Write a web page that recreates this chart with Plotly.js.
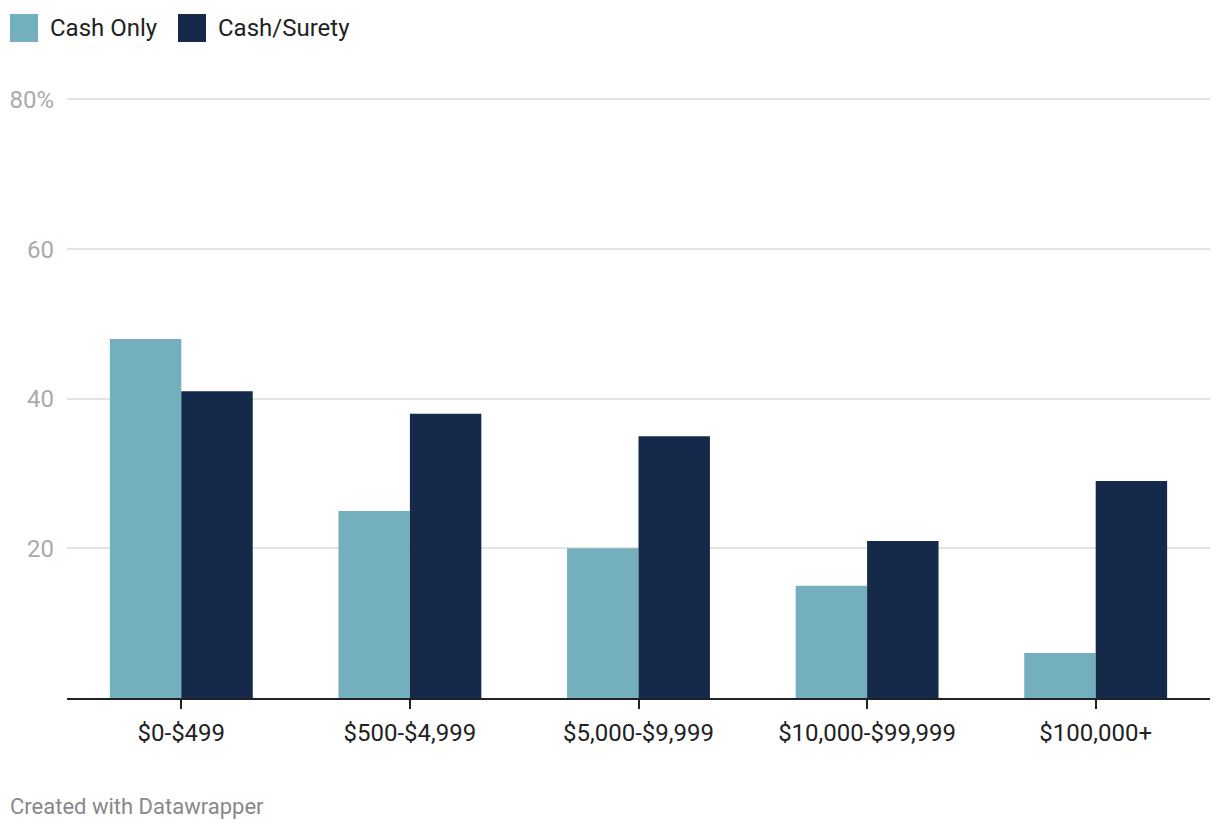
<!DOCTYPE html>
<html>
<head>
<meta charset="utf-8">
<script src="https://cdn.plot.ly/plotly-3.0.1.min.js"></script>
<style>
  html, body { margin: 0; padding: 0; background: #fff; }
  #chart { width: 1220px; height: 830px; }
</style>
</head>
<body>
<div id="chart"></div>
<script>
const categories = ["$0-$499", "$500-$4,999", "$5,000-$9,999", "$10,000-$99,999", "$100,000+"];
const cashOnly = [48, 25, 20, 15, 6];
const cashSurety = [41, 38, 35, 21, 29];
const seriesNames = ["Cash Only", "Cash/Surety"];
const seriesColors = ["#74afbd", "#15294b"];
const yTickVals = [20, 40, 60, 80];
const yTickText = ["20", "40", "60", "80%"];

const W = 1220, H = 830;
const margin = {l: 67, r: 10, t: 92, b: 132};
const pw = W - margin.l - margin.r, ph = H - margin.t - margin.b;
const px = x => (x - margin.l) / pw;
const py = y => (H - margin.b - y) / ph;

const traces = [cashOnly, cashSurety].map((vals, i) => ({
  type: "bar",
  x: categories,
  y: vals,
  name: seriesNames[i],
  marker: {color: seriesColors[i], line: {width: 0}},
  hoverinfo: "x+y+name"
}));

// custom legend (large squares as in reference)
const legendX = [10, 178];
const shapes = [];
const annotations = [];
seriesNames.forEach((n, i) => {
  shapes.push({
    type: "rect", xref: "paper", yref: "paper",
    x0: px(legendX[i]), x1: px(legendX[i] + 28),
    y0: py(42), y1: py(14),
    fillcolor: seriesColors[i], line: {width: 0}
  });
  annotations.push({
    xref: "paper", yref: "paper",
    x: px(legendX[i] + 38), y: py(28),
    xanchor: "left", yanchor: "middle",
    text: n, showarrow: false,
    font: {family: "Roboto", size: 24, color: "#222"}
  });
});
annotations.push({
  xref: "paper", yref: "paper",
  x: px(8), y: py(806),
  xanchor: "left", yanchor: "middle",
  text: "Created with Datawrapper", showarrow: false,
  font: {family: "Roboto", size: 22, color: "#888"}
});

const layout = {
  width: W, height: H,
  margin: margin,
  paper_bgcolor: "#fff",
  plot_bgcolor: "#fff",
  barmode: "group",
  bargap: 0.375,
  bargroupgap: 0,
  showlegend: false,
  font: {family: "Roboto", color: "#222"},
  xaxis: {
    type: "category",
    showgrid: false,
    showline: true,
    linecolor: "#222",
    linewidth: 2,
    ticks: "outside",
    ticklen: 9,
    tickwidth: 2,
    tickcolor: "#222",
    ticklabelstandoff: 3,
    tickfont: {family: "Roboto", size: 24, color: "#222"},
    fixedrange: true
  },
  yaxis: {
    range: [0, 81],
    tickvals: yTickVals,
    ticktext: yTickText,
    showgrid: true,
    gridcolor: "#e3e3e3",
    gridwidth: 1.5,
    zeroline: false,
    showline: false,
    ticks: "",
    ticklabelstandoff: 12,
    tickfont: {family: "Roboto", size: 24, color: "#aaaaaa"},
    fixedrange: true
  },
  shapes: shapes,
  annotations: annotations
};

Plotly.newPlot("chart", traces, layout, {displayModeBar: false, responsive: false});
</script>
</body>
</html>
